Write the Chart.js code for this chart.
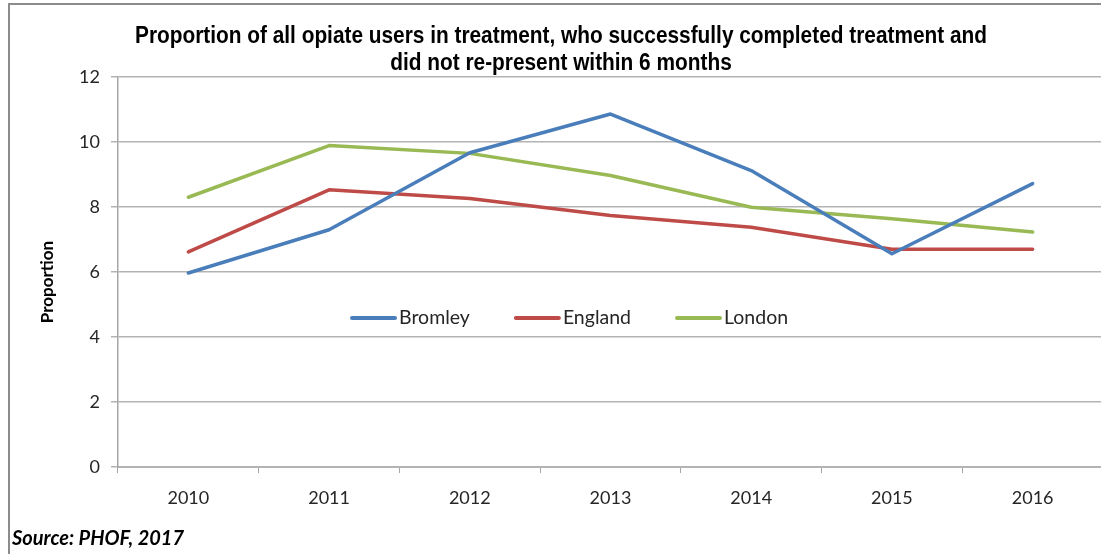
<!DOCTYPE html>
<html lang="en">
<head>
    <meta charset="UTF-8">
    <title>Opiate users - successful completions</title>
    <script src="https://cdn.jsdelivr.net/npm/chart.js"></script>
    <style>
        html, body { margin: 0; padding: 0; background: #fff; }
        #wrap { width: 1101px; height: 554px; overflow: hidden; position: relative; }
    </style>
</head>
<body>
    <div id="wrap">
        <canvas id="opiateChart" width="1120" height="554"></canvas>
    </div>

    <script>
        // donnees
        const years = ['2010', '2011', '2012', '2013', '2014', '2015', '2016'];
        const bromley = [5.97, 7.30, 9.67, 10.86, 9.12, 6.56, 8.72];
        const england = [6.62, 8.53, 8.26, 7.74, 7.38, 6.70, 6.70];
        const london = [8.30, 9.89, 9.65, 8.97, 7.99, 7.64, 7.23];
        const titleLines = ['Proportion of all opiate users in treatment, who successfully completed treatment and',
                            'did not re-present within 6 months'];
        const yTitle = 'Proportion';
        const sourceText = 'Source: PHOF, 2017';

        // titre, legende, cadre et source dessines a la main
        const decorations = {
            id: 'decorations',
            afterDraw(chart) {
                const c = chart.ctx;
                c.save();

                // cadre gris
                c.strokeStyle = '#8c8c8c';
                c.lineWidth = 2;
                c.beginPath();
                c.moveTo(9, 560);
                c.lineTo(9, 4);
                c.lineTo(1120, 4);
                c.stroke();

                // titre (police etroite simulee)
                c.fillStyle = '#000';
                c.font = 'bold 23px "Liberation Sans", Arial, sans-serif';
                c.textAlign = 'center';
                c.textBaseline = 'middle';
                const sx = 852 / c.measureText(titleLines[0]).width;
                c.save();
                c.translate(561, 0);
                c.scale(sx, 1);
                c.fillText(titleLines[0], 0, 37);
                c.fillText(titleLines[1], 0, 64);
                c.restore();

                // titre de l'axe Y
                c.save();
                c.translate(48, 282);
                c.rotate(-Math.PI / 2);
                c.font = 'bold 17px Lato, sans-serif';
                c.fillText(yTitle, 0, 0);
                c.restore();

                // legende au milieu du graphique
                let x = 352;
                const y = 318;
                c.font = '19.5px Lato, sans-serif';
                c.textAlign = 'left';
                chart.data.datasets.forEach(ds => {
                    c.strokeStyle = ds.borderColor;
                    c.lineWidth = 4;
                    c.lineCap = 'round';
                    c.beginPath();
                    c.moveTo(x, y);
                    c.lineTo(x + 43, y);
                    c.stroke();
                    c.fillStyle = '#262626';
                    c.fillText(ds.label, x + 47, y);
                    x += 47 + c.measureText(ds.label).width + 46;
                });

                // source
                c.fillStyle = '#000';
                c.font = 'italic bold 20px Lato, sans-serif';
                c.textBaseline = 'alphabetic';
                c.fillText(sourceText, 12, 545);

                c.restore();
            }
        };

        const ctx = document.getElementById('opiateChart').getContext('2d');
        const chart = new Chart(ctx, {
            type: 'line',
            data: {
                labels: years,
                datasets: [
                    { label: 'Bromley', data: bromley, borderColor: '#4a7ebb' },
                    { label: 'England', data: england, borderColor: '#be4b48' },
                    { label: 'London', data: london, borderColor: '#98b954' }
                ]
            },
            options: {
                responsive: false,
                animation: false,
                devicePixelRatio: 1,
                layout: { padding: { top: 77, right: 17, left: 0, bottom: 0 } },
                elements: {
                    line: { borderWidth: 3.5, tension: 0, borderCapStyle: 'round', borderJoinStyle: 'round' },
                    point: { radius: 0 }
                },
                plugins: {
                    legend: { display: false },
                    title: { display: false },
                    tooltip: { enabled: false }
                },
                scales: {
                    x: {
                        offset: true,
                        afterFit: s => { s.height = 87; },
                        grid: { offset: true, drawOnChartArea: false, drawTicks: true, tickLength: 6, color: '#a6a6a6' },
                        border: { color: '#b3b3b3', width: 2 },
                        ticks: { color: '#262626', font: { family: 'Lato', size: 18 }, padding: 14, maxRotation: 0 }
                    },
                    y: {
                        min: 0,
                        max: 12,
                        afterFit: s => { s.width = 118; },
                        grid: { color: '#b3b3b3', lineWidth: 1.5, tickLength: 7 },
                        border: { color: '#a6a6a6', width: 1.5 },
                        ticks: { stepSize: 2, color: '#262626', font: { family: 'Lato', size: 18 }, padding: 11 }
                    }
                }
            },
            plugins: [decorations]
        });
    </script>
</body>
</html>
